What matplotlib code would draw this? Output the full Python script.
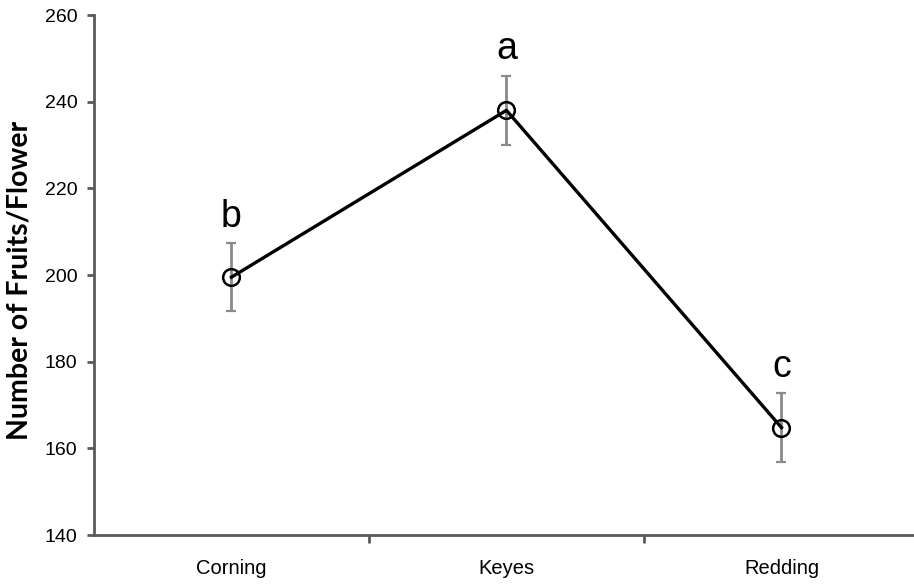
import matplotlib
matplotlib.use("Agg")
import matplotlib.pyplot as plt

# Mean number of fruits per flower at each site, with error (±) and group letters
sites = ["Corning", "Keyes", "Redding"]
means = [199.5, 238.0, 164.8]
errors = [7.8, 7.9, 7.9]
groups = ["b", "a", "c"]
yticks = [140, 160, 180, 200, 220, 240, 260]

plt.rcParams["font.family"] = ["Liberation Sans", "DejaVu Sans"]

fig = plt.figure(figsize=(9.14, 5.84), dpi=100)
ax = fig.add_axes([0.1028, 0.0839, 0.8972, 0.8904])

x = list(range(len(sites)))
spine_col = "#5a5a5a"

ax.errorbar(x, means, yerr=errors, fmt="none", ecolor="#8a8a8a",
            elinewidth=2.0, capsize=3.6, capthick=1.6, zorder=2)
ax.plot(x, means, color="black", lw=2.4, zorder=3)
ax.plot(x, means, ls="none", marker="o", ms=12, mfc="none",
        mec="black", mew=1.8, zorder=4)

for xi, m, e, g in zip(x, means, errors, groups):
    ax.annotate(g, (xi, m + e), xytext=(0, 12), textcoords="offset points",
                ha="center", va="baseline", fontsize=27, color="black")

ax.set_xlim(-0.5, 2.482)
ax.set_ylim(140, 260)
ax.set_yticks(yticks)
ax.set_xticks(x)
ax.set_xticklabels(sites, fontsize=14.5)
ax.set_xticks([0.5, 1.5], minor=True)
ax.tick_params(axis="x", which="major", length=0, pad=17)
ax.tick_params(axis="x", which="minor", length=6, width=2, color=spine_col)
ax.tick_params(axis="y", length=5, width=2, color=spine_col, labelsize=14,
               pad=7)

for s in ["top", "right"]:
    ax.spines[s].set_visible(False)
for s in ["left", "bottom"]:
    ax.spines[s].set_color(spine_col)
    ax.spines[s].set_linewidth(2)

fig.text(20 / 914, 1 - 280 / 584, "Number of Fruits/Flower", rotation=90,
         ha="center", va="center", fontsize=20.5, fontweight="bold",
         family=["Lato", "DejaVu Sans"])

fig.savefig("out.png", dpi=100)
